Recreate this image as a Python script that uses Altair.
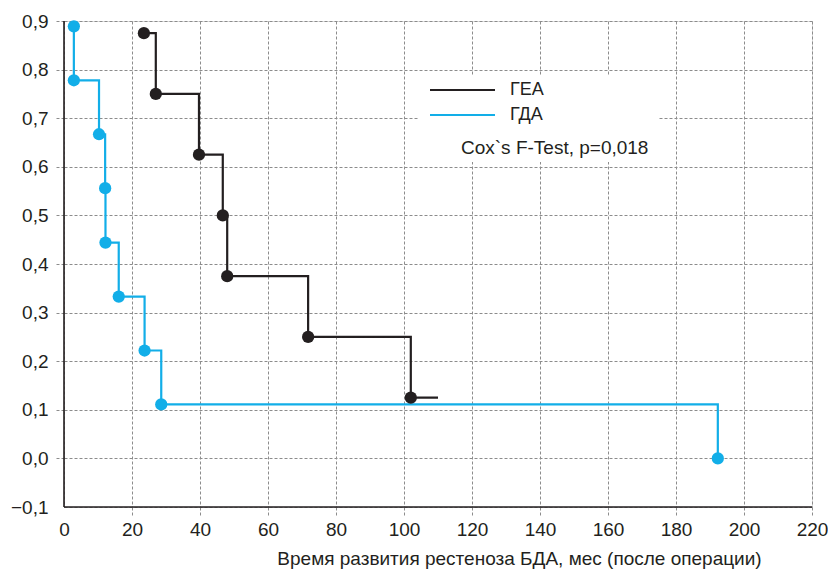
import altair as alt
import pandas as pd

# ---- data ----
groups = ["ГЕА", "ГДА"]
colors = ["#231f20", "#12aee8"]

gea_time = [23.5, 27.0, 39.7, 46.7, 48.0, 71.8, 102.0]
gea_surv = [0.875, 0.75, 0.625, 0.5, 0.375, 0.25, 0.125]
gea_end = 110.0

gda_time = [2.9, 2.9, 10.3, 12.1, 12.2, 16.1, 23.7, 28.6, 192.3]
gda_surv = [0.889, 0.778, 0.667, 0.556, 0.444, 0.333, 0.222, 0.111, 0.0]
gda_end = 192.3

x_ticks = [0, 20, 40, 60, 80, 100, 120, 140, 160, 180, 200, 220]
y_ticks = [-0.1, 0.0, 0.1, 0.2, 0.3, 0.4, 0.5, 0.6, 0.7, 0.8, 0.9]

x_title = "Время развития рестеноза БДА, мес (после операции)"
test_text = "Cox`s F-Test, p=0,018"

FONT = "Liberation Sans"
TXT = "#231f20"
GRID = "#8c8c8c"
W, H = 748, 486

# ---- tables ----
line_rows, pt_rows = [], []
for g, ts, ss, end in [(groups[0], gea_time, gea_surv, gea_end),
                       (groups[1], gda_time, gda_surv, gda_end)]:
    i = 0
    for t, s in zip(ts, ss):
        line_rows.append({"g": g, "t": t, "s": s, "o": i})
        pt_rows.append({"g": g, "t": t, "s": s})
        i += 1
    if end > ts[-1]:
        line_rows.append({"g": g, "t": end, "s": ss[-1], "o": i})
lines_df = pd.DataFrame(line_rows)
pts_df = pd.DataFrame(pt_rows)

color_scale = alt.Scale(domain=groups, range=colors)
x_scale = alt.Scale(domain=[0, 220], nice=False, zero=False)
y_scale = alt.Scale(domain=[-0.1, 0.9], nice=False, zero=False)

x_tick_col = {"condition": {"test": "datum.value < 1", "value": "transparent"}, "value": GRID}
y_tick_col = {"condition": {"test": "datum.value < -0.05", "value": "transparent"}, "value": GRID}

common = dict(
    grid=True, gridColor=GRID, gridDash=[3, 2], gridWidth=1,
    ticks=True, tickDash=[3, 2], tickWidth=1, tickSize=8,
    domain=False,
    labelFont=FONT, labelColor=TXT, labelFontSize=19, labelFlush=False,
)

x_axis = alt.Axis(
    values=x_ticks, title=x_title, titleFont=FONT, titleColor=TXT, titleFontSize=19,
    titleFontWeight="normal", titleX=455, titleY=51, titleAlign="center",
    titleBaseline="middle", labelPadding=5, tickColor=x_tick_col, **common,
)
y_axis = alt.Axis(
    values=y_ticks, title=None, labelPadding=8, tickColor=y_tick_col,
    labelExpr="replace(replace(format(datum.value, '.1f'), '.', ','), '-', '\u2212')",
    **common,
)

lines = alt.Chart(lines_df).mark_line(interpolate="step-after", strokeWidth=2.2).encode(
    x=alt.X("t:Q", scale=x_scale, axis=x_axis),
    y=alt.Y("s:Q", scale=y_scale, axis=y_axis),
    color=alt.Color("g:N", scale=color_scale, legend=None),
    order="o:Q",
    detail="g:N",
)
points = alt.Chart(pts_df).mark_circle(size=150, opacity=1).encode(
    x=alt.X("t:Q", scale=x_scale), y=alt.Y("s:Q", scale=y_scale),
    color=alt.Color("g:N", scale=color_scale, legend=None),
)

one = pd.DataFrame({"a": [0]})
# solid axis lines (left and bottom) drawn above the dashed grid
axis_left = alt.Chart(one).mark_rule(color="#231f20", strokeWidth=1.6).encode(
    x=alt.value(0), y=alt.value(0), y2=alt.value(H))
axis_bottom = alt.Chart(one).mark_rule(color="#231f20", strokeWidth=1.6).encode(
    x=alt.value(0), x2=alt.value(W), y=alt.value(H))

box = alt.Chart(one).mark_rect(fill="white").encode(
    x=alt.value(354), x2=alt.value(595), y=alt.value(54), y2=alt.value(141)
)
leg_layers = []
for k, (g, c) in enumerate(zip(groups, colors)):
    yy = 69 + 25 * k
    leg_layers.append(alt.Chart(one).mark_rule(color=c, strokeWidth=2.2).encode(
        x=alt.value(366), x2=alt.value(431), y=alt.value(yy)))
    leg_layers.append(alt.Chart(one).mark_text(
        align="left", baseline="middle", font=FONT, fontSize=18, color=TXT
    ).encode(x=alt.value(446), y=alt.value(yy), text=alt.value(g)))
cox = alt.Chart(one).mark_text(
    align="left", baseline="middle", font=FONT, fontSize=19, color=TXT
).encode(x=alt.value(397), y=alt.value(127), text=alt.value(test_text))

chart = alt.layer(axis_left, axis_bottom, lines, points, box, *leg_layers, cox).properties(
    width=W, height=H,
    autosize=alt.AutoSizeParams(type="none"),
    padding={"left": 64, "top": 21, "right": 16, "bottom": 62},
).configure_view(stroke=None).configure(background="white")

chart.save("out.html", embed_options={"renderer": "svg", "actions": False})
